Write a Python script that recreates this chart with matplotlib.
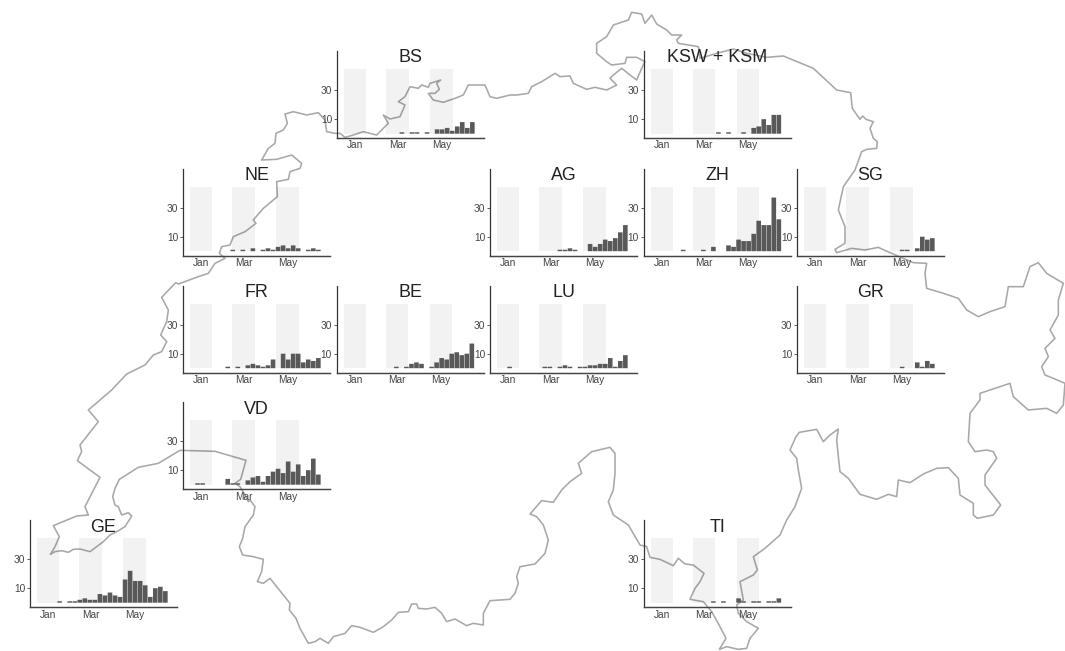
import numpy as np
import matplotlib
matplotlib.use("Agg")
import matplotlib.pyplot as plt

W, H = 1065, 651
plt.rcParams['font.family'] = ['Liberation Sans', 'DejaVu Sans']

# weekly values (26 weeks, Jan - end of June)
weeks = np.arange(26)
GE  = [0,0,0,0,1,0,1,1,2,3,2,2,6,5,7,5,4,16,22,15,15,12,4,10,11,8]
VD  = [0,1,1,0,0,0,0,4,1,1,0,3,5,6,2,6,9,11,8,16,9,14,6,10,18,7]
NE  = [0,0,0,0,0,0,0,0,1,0,1,0,2,0,1,2,1,3,4,2,4,2,0,1,2,1]
FR  = [0,0,0,0,0,0,0,1,0,1,0,2,3,2,1,2,6,0,10,6,10,10,4,6,5,7]
BE  = [0,0,0,0,0,0,0,0,0,0,1,0,1,3,4,3,0,1,4,7,6,10,11,9,10,17]
LU  = [0,0,1,0,0,0,0,0,0,1,1,0,1,2,1,0,1,1,2,2,3,3,7,1,5,9]
AG  = [0,0,0,0,0,0,0,0,0,0,0,0,1,1,2,1,0,0,5,3,5,8,7,9,13,18]
ZH  = [0,0,0,0,0,0,1,0,0,0,1,0,3,0,0,4,3,8,7,7,12,21,18,18,37,22]
SG  = [0,0,0,0,0,0,0,0,0,0,0,0,0,0,0,0,0,0,0,1,1,0,2,10,8,9]
GR  = [0,0,0,0,0,0,0,0,0,0,0,0,0,0,0,0,0,0,0,1,0,0,4,1,5,3]
BS  = [0,0,0,0,0,0,0,0,0,0,0,1,0,1,1,0,1,0,3,3,4,2,5,8,4,8]
KSW = [0,0,0,0,0,0,0,0,0,0,0,0,0,1,0,1,0,0,1,0,4,5,10,6,13,13]
TI  = [0,0,0,0,0,0,0,0,0,0,0,0,1,0,1,0,0,3,1,0,1,1,0,1,1,3]

month_labels = ['Jan', 'Mar', 'May']
month_start = [0, 59, 120]
month_end = [31, 90, 151]
y_ticks = [10, 30]

# name, series, left spine px, bottom spine px
panels = [
    ('GE', GE, 30, 607), ('VD', VD, 183, 489), ('NE', NE, 183, 255.5),
    ('FR', FR, 183, 372.5), ('BE', BE, 336.5, 372.5), ('LU', LU, 490, 372.5),
    ('AG', AG, 490, 255.5), ('ZH', ZH, 643.5, 255.5), ('SG', SG, 797, 255.5),
    ('GR', GR, 797, 372.5), ('BS', BS, 337, 138), ('KSW + KSM', KSW, 643.5, 138),
    ('TI', TI, 643.5, 607),
]

border_parts = [
    (0, 390, [152,492,165,485,185,482,205,487,220,478,240,477,255,481,270,485,290,470,310,455,330,435,350,425,375,410,395,378,385,368,365,375,355,350,345,345,338,320,345,295,358,268,415,232,475,220,540,181,645,184,738,211,730,240,722,268,705,280,720,290,735,315,745,335]),
    (220, 440, [90,180,105,200,100,225,75,260,68,295,58,320,68,345,100,350,130,358,125,395,112,425,130,430,150,415,170,440,190,465,210,490,208,510,228,535,240,565,265,610,285,605,300,595,325,610,340,590,375,580,395,557,420,562,460,577,490,560,515,540,535,517,565,515,575,492,590,492,595,505,620,507,645,502,665,520,680,545,705,537,740,557,760,550,790,555,790,520,810,482,870,478,885,460,895,430,890,410,900,380,945,372,975,340,985,300,970,255,950,230,930,222,965,182,1000,187,1025,150,1050,125,1085,100,1075,70,1115,35,1170,22,1185,40,1185,100,1180,150,1165,185,1180,225,1225,255]),
    (640, 400, [0,435,20,440,30,472,60,478,100,497,115,475,135,492,160,495,192,520,180,545,165,565,150,598,190,605,215,635,240,680,258,715,238,748,260,740,295,748,320,745,330,715,355,685,320,665,295,640,290,615,310,600,300,545,340,525,352,510,340,470,375,445,420,405,440,360,465,320,485,265,475,210,470,175,450,150,468,110,478,97,530,88,550,125,570,105,595,87,590,120,595,170,600,215,625,235,660,283,710,298,745,283,770,290,775,240,810,248,850,222,890,205,925,203,955,235,960,285,1000,310,1000,345,1012,355,1060,345,1082,315,1035,255,1035,225,1070,175,1060,155,1040,150,1005,155,985,125,990,40,1020,0]),
    (790, 130, [570,790,630,770,660,760,670,800,715,840,770,835,800,850,820,825,825,760,790,745,765,735,755,710,775,680,765,655,795,625,780,600,805,555,805,510,820,460,770,430,745,398,720,410,700,470,655,470,645,530,600,545,565,560,530,540,505,505,460,490,410,475,405,430,410,400,370,398,300,368,265,352,225,360,185,355,140,368,135,358,165,340,165,290,145,240,160,170,195,120,215,65]),
    (770, 40, [290,328,320,325,322,305,310,295,300,265,310,245,288,238,278,228,270,238,247,205,242,158,200,150,130,85,40,48]),
    (320, 0, [1340,172,1280,160,1240,147,1190,160,1140,175,1135,140,1105,135,1075,130,1070,120,1085,105,1055,105,1040,90,1010,72,995,45,975,70,965,42,935,37,925,60,880,75,860,110,830,130,830,160,860,185,875,195,915,190,920,172,950,172,975,185,965,205,950,240,930,225,905,205,880,225,870,235,890,255,860,270,825,262,800,268,760,250,750,228,720,230,705,220,665,245,635,260,625,280,590,285,570,285,530,295,510,290,495,255,445,255,430,285,405,295,370,307,340,300,325,280,345,280,358,268,350,250,362,240,330,250,325,262,305,255,295,265,270,260,255,290,235,305,255,315,240,350,210,357,190,345,205,370,170,405,130,395,100,405,75,412,60,400,45,400]),
    (0, 100, [980,95,975,60,955,38,920,45,880,35,855,42,862,70,850,90,828,100,825,130,805,145,785,180,830,178,875,165,905,190,900,205,870,215,865,238,830,245,832,290,790,325,760,360,768,370,735,395,700,410,690,435,665,440,658,460,675,475,645,490,625,520,595,530,535,552,527,548,485,592,505,630,500,665,482,705,500,725,485,755,460,765,435,795,380,822]),
    (0, 390, [335,0,265,60,295,95,240,165,245,185,232,212,300,262,255,350,265,375,230,378,160,407,178,440,165,470,152,492]),
]

fig = plt.figure(figsize=(W / 100, H / 100), dpi=100, facecolor='white')

# map layer in pixel coordinates
mp = fig.add_axes([0, 0, 1, 1], zorder=0)
mp.set_xlim(0, W)
mp.set_ylim(H, 0)
mp.axis('off')
bx, by = [], []
for x0, y0, pts in border_parts:
    arr = np.array(pts, dtype=float).reshape(-1, 2)
    bx.extend(x0 + arr[:, 0] / 3)
    by.extend(y0 + arr[:, 1] / 3)
mp.plot(bx, by, color='#a8a8a8', lw=1.15, solid_joinstyle='round')

PW, PH = 147, 87
PX_DAY = 0.719
PX_UNIT = 1.45
xl = (-7 / PX_DAY, (PW - 7) / PX_DAY)
yl = (-4.3 / PX_UNIT, (PH - 4.3) / PX_UNIT)

for name, vals, left, bottom in panels:
    ax = fig.add_axes([left / W, 1 - bottom / H, PW / W, PH / H], zorder=1)
    ax.patch.set_alpha(0)
    ax.set_xlim(*xl)
    ax.set_ylim(*yl)
    for s, e in zip(month_start, month_end):
        ax.bar((s + e) / 2, 44.5, width=e - s, color='black', alpha=0.05, lw=0)
    v = np.array(vals, dtype=float)
    mask = v > 0
    bars = ax.bar(weeks[mask] * 7 + 3.5, v[mask], width=6.4, color='#595959', lw=0)
    for b in bars:
        b.set_snap(False)
    ax.spines[['top', 'right']].set_visible(False)
    ax.spines['left'].set_linewidth(0.9)
    ax.spines['bottom'].set_linewidth(1.05)
    ax.spines['left'].set_color('#333333')
    ax.spines['bottom'].set_color('#444444')
    ax.set_xticks([(s + e) / 2 for s, e in zip(month_start, month_end)], month_labels)
    ax.set_yticks(y_ticks)
    ax.tick_params(axis='x', length=0, pad=1.8, labelsize=7.3, labelcolor='#444444')
    ax.tick_params(axis='y', length=2, width=0.6, color='#444444', pad=1.5,
                   labelsize=7.3, labelcolor='#444444')
    for lab in ax.get_xticklabels():
        lab.set_x(lab.get_position()[0])
    ax.text(0.5, 1 - 7 / PH, name, transform=ax.transAxes, ha='center', va='center',
            fontsize=12.9, color='#222222')

fig.savefig('out.png', dpi=100)
